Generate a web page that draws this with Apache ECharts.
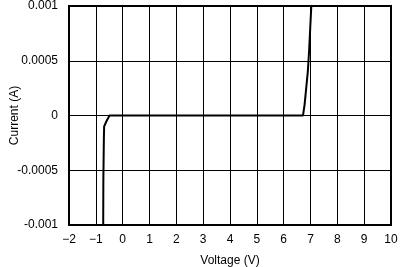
<!DOCTYPE html>
<html><head><meta charset="utf-8">
<script src="https://cdn.jsdelivr.net/npm/echarts@6/dist/echarts.min.js"></script>
<style>html,body{margin:0;padding:0;background:#fff}#c{width:406px;height:267px}</style>
</head><body><div id="c"></div>
<script>
const voltage = [-0.725, -0.72, -0.71, -0.7, -0.69, -0.6, -0.49, 6.72, 6.78, 6.84, 6.9, 6.95, 6.99, 7.02, 7.03];
const current = [-0.001, -0.0006, -0.0004, -0.0002, -0.0001, -0.00005, 0, 0, 0.0001, 0.00025, 0.0004, 0.0006, 0.0008, 0.00095, 0.001];
const xTickLabels = ['\u22122','\u22121','0','1','2','3','4','5','6','7','8','9','10'];
const yTickLabels = ['-0.001','-0.0005','0','0.0005','0.001'];

const chart = echarts.init(document.getElementById('c'), null, {renderer:'canvas'});
const font = 'Liberation Sans, Arial, sans-serif';
chart.setOption({
  animation: false,
  grid: {left: 69, right: 15, top: 6, bottom: 42, containLabel: false, outerBoundsMode: 'none',
    show: true, borderColor: '#000', borderWidth: 2, backgroundColor: 'transparent'},
  xAxis: {
    type: 'value', min: -2, max: 10, interval: 1,
    name: 'Voltage (V)', nameLocation: 'middle', nameGap: 30, nameMoveOverlap: false,
    nameTextStyle: {fontFamily: font, fontSize: 12, color: '#000'},
    axisLine: {onZero: false, lineStyle: {color: '#000', width: 2}},
    axisTick: {show: false},
    axisLabel: {fontFamily: font, fontSize: 12, color: '#000', margin: 9,
      formatter: (v, i) => xTickLabels[i]},
    splitLine: {lineStyle: {color: '#000', width: 1}}
  },
  yAxis: {
    type: 'value', min: -0.001, max: 0.001, interval: 0.0005,
    name: 'Current (A)', nameLocation: 'middle', nameGap: 48, nameRotate: 90, nameMoveOverlap: false,
    nameTextStyle: {fontFamily: font, fontSize: 12, color: '#000'},
    axisLine: {show: true, onZero: false, lineStyle: {color: '#000', width: 2}},
    axisTick: {show: false},
    axisLabel: {fontFamily: font, fontSize: 12, color: '#000', margin: 11,
      formatter: (v, i) => yTickLabels[i]},
    splitLine: {lineStyle: {color: '#000', width: 1}}
  },
  series: [{
    type: 'line', showSymbol: false, symbol: 'none',
    data: voltage.map((v, i) => [v, current[i]]),
    lineStyle: {color: '#000', width: 2},
    clip: true
  }]
});
</script></body></html>
